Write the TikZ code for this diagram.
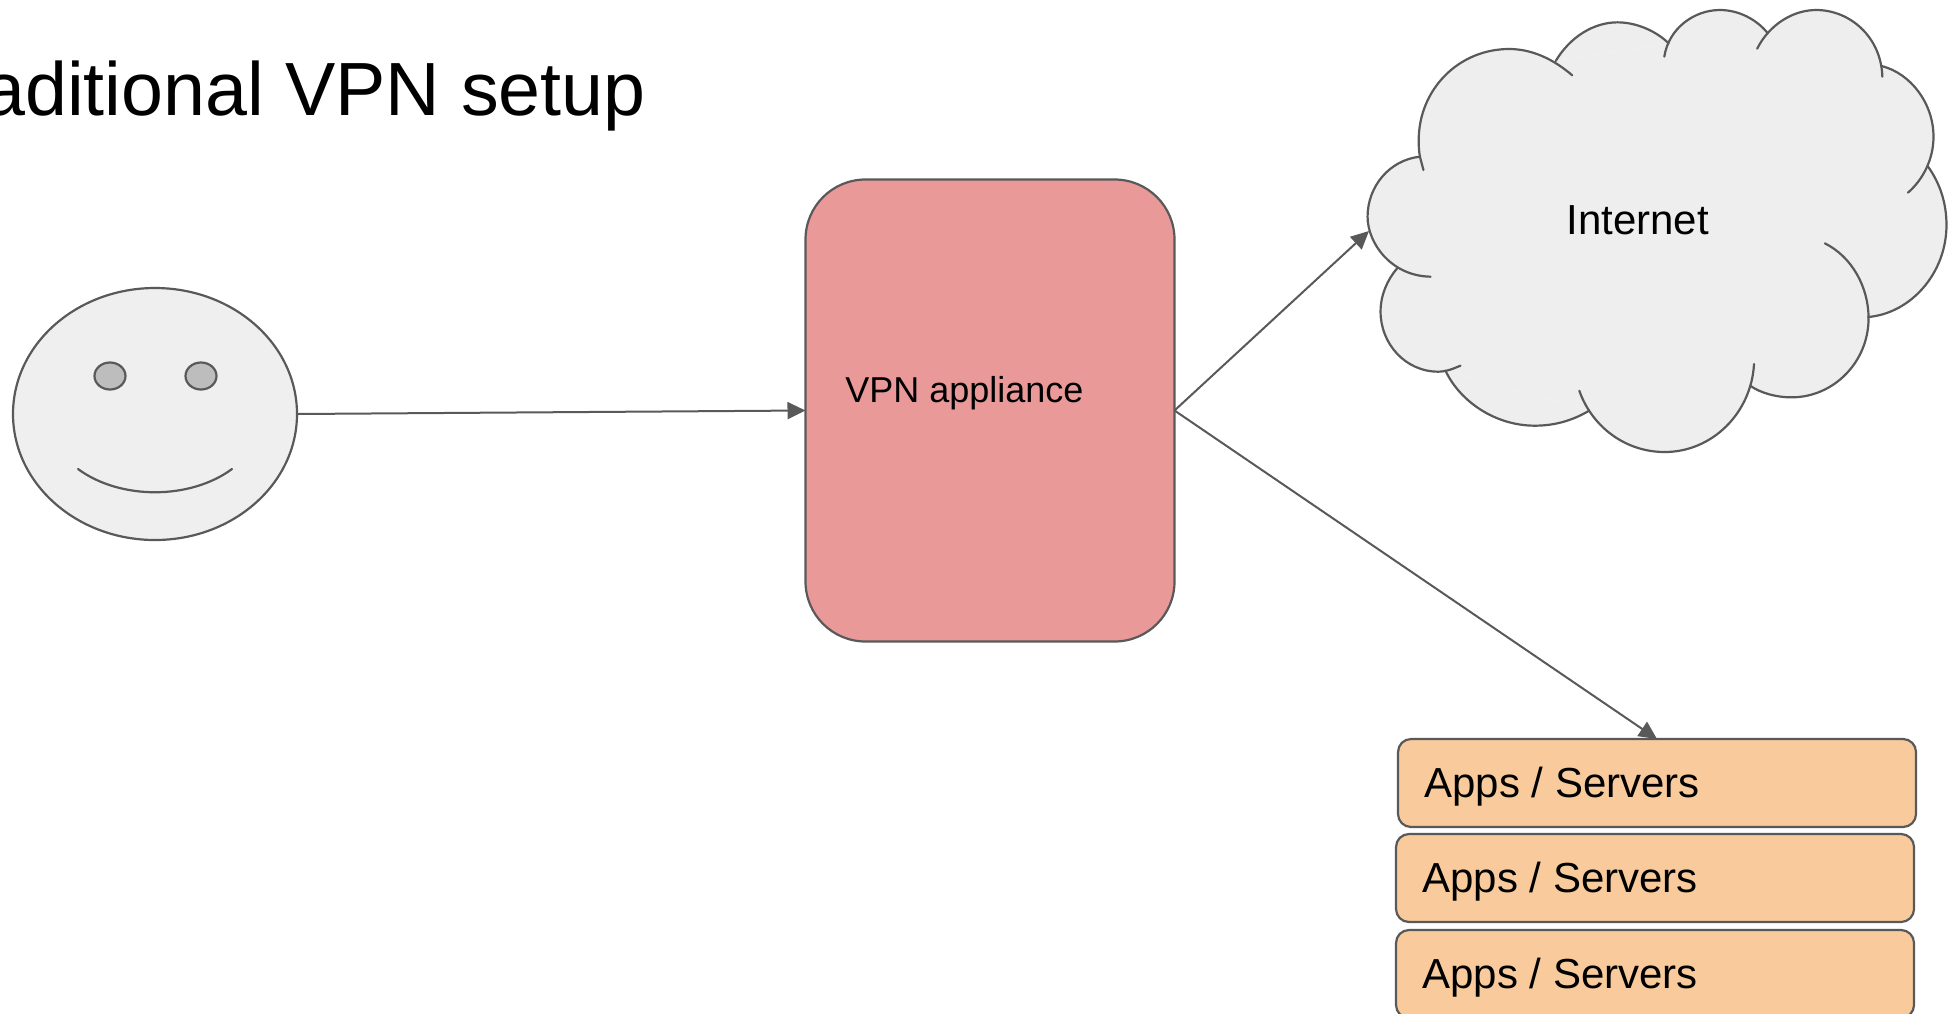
\documentclass[tikz,border=0pt]{standalone}
\usepackage{fontspec}
\setmainfont{Liberation Sans}
\usetikzlibrary{arrows.meta,shapes.geometric}
\definecolor{ln}{HTML}{595959}
\definecolor{cloudfill}{HTML}{EEEEEE}
\definecolor{facefill}{HTML}{EFEFEF}
\definecolor{eyefill}{HTML}{BDBDBD}
\definecolor{vpnfill}{HTML}{EA9999}
\definecolor{appfill}{HTML}{F9CB9C}
\tikzset{
  shp/.style={draw=ln,line width=1.1pt,outer sep=0pt},
  conn/.style={draw=ln,line width=1pt,-{Triangle[length=9pt,width=8.5pt,fill=ln]}},
  appbox/.style={shp,fill=appfill,rounded corners=6.5pt,minimum width=259pt,minimum height=44pt,inner sep=0pt},
  lbl/.style={anchor=base west,inner sep=0pt,text=black},
  lobe/.style={draw=ln,line width=1.1pt,line cap=round},
  eyeshape/.style={shp,fill=eyefill,ellipse,minimum width=15.5pt,minimum height=13.5pt,inner sep=0pt},
}
\begin{document}
\begin{tikzpicture}[x=0.5pt,y=-0.5pt]
\useasboundingbox (0,0) rectangle (1957,1013);
\clip (0,0) rectangle (1957,1013);
% title
\node[lbl,font=\fontsize{37.7}{40}\selectfont] (title) at (-17,115) {aditional VPN setup};
% face
\node[shp,fill=facefill,ellipse,minimum width=142pt,minimum height=126pt,inner sep=0pt] (face) at (155,414) {};
\node[eyeshape] (eyeL) at (110,376) {};
\node[eyeshape] (eyeR) at (201,376) {};
\coordinate (smileL) at (78,469);
\coordinate (smileR) at (232,469);
\draw[lobe] (smileL) .. controls (120,500) and (190,500) .. (smileR);
% vpn
\node[shp,fill=vpnfill,rounded corners=30pt,minimum width=184.5pt,minimum height=231pt,inner sep=0pt] (vpn) at (990,410.5) {};
\node[lbl,font=\fontsize{18}{20}\selectfont] (vpntext) at (845,402) {VPN appliance};
% cloud
\begin{scope}[shift={(1340,0)},x=0.19677pt,y=-0.16667pt]
\fill[cloudfill] (203,470) -- (548,183) -- (835,130) -- (1087,100) -- (1376,198) -- (1493,498) -- (1342,951) -- (1042,1157) -- (633,1232) -- (268,1112) -- (145,805) -- cycle;
\fill[cloudfill] (212,510) -- (203,470) .. controls (125,480) and (70,560) .. (70,650) .. controls (70,730) and (130,828) .. (230,830);
\fill[cloudfill] (203,470) .. controls (200,450) and (200,435) .. (200,420) .. controls (200,270) and (300,147) .. (430,147) .. controls (490,147) and (545,180) .. (590,226);
\fill[cloudfill] (548,183) .. controls (585,110) and (645,67) .. (705,67) .. controls (755,67) and (805,95) .. (835,130);
\fill[cloudfill] (824,170) .. controls (835,85) and (900,30) .. (965,30) .. controls (1015,30) and (1060,60) .. (1087,100);
\fill[cloudfill] (1060,146) .. controls (1090,75) and (1150,30) .. (1210,30) .. controls (1295,30) and (1375,110) .. (1378,230);
\fill[cloudfill] (1376,198) .. controls (1450,220) and (1508,310) .. (1508,410) .. controls (1508,480) and (1480,540) .. (1443,578);
\fill[cloudfill] (1493,498) .. controls (1525,550) and (1541,610) .. (1541,675) .. controls (1541,820) and (1450,940) .. (1342,951);
\fill[cloudfill] (1232,730) .. controls (1300,770) and (1343,860) .. (1343,955) .. controls (1343,1085) and (1255,1192) .. (1147,1192) .. controls (1110,1192) and (1070,1180) .. (1042,1157);
\fill[cloudfill] (1052,1092) .. controls (1045,1240) and (945,1356) .. (825,1356) .. controls (725,1356) and (640,1280) .. (608,1172);
\fill[cloudfill] (633,1232) .. controls (590,1262) and (545,1277) .. (495,1277) .. controls (395,1277) and (305,1205) .. (268,1112);
\fill[cloudfill] (306,1097) .. controls (290,1105) and (270,1115) .. (250,1115) .. controls (165,1115) and (103,1030) .. (103,935) .. controls (103,885) and (120,840) .. (145,805);
\draw[lobe] (212,510) -- (203,470) .. controls (125,480) and (70,560) .. (70,650) .. controls (70,730) and (130,828) .. (230,830);
\draw[lobe] (203,470) .. controls (200,450) and (200,435) .. (200,420) .. controls (200,270) and (300,147) .. (430,147) .. controls (490,147) and (545,180) .. (590,226);
\draw[lobe] (548,183) .. controls (585,110) and (645,67) .. (705,67) .. controls (755,67) and (805,95) .. (835,130);
\draw[lobe] (824,170) .. controls (835,85) and (900,30) .. (965,30) .. controls (1015,30) and (1060,60) .. (1087,100);
\draw[lobe] (1060,146) .. controls (1090,75) and (1150,30) .. (1210,30) .. controls (1295,30) and (1375,110) .. (1378,230);
\draw[lobe] (1376,198) .. controls (1450,220) and (1508,310) .. (1508,410) .. controls (1508,480) and (1480,540) .. (1443,578);
\draw[lobe] (1493,498) .. controls (1525,550) and (1541,610) .. (1541,675) .. controls (1541,820) and (1450,940) .. (1342,951);
\draw[lobe] (1232,730) .. controls (1300,770) and (1343,860) .. (1343,955) .. controls (1343,1085) and (1255,1192) .. (1147,1192) .. controls (1110,1192) and (1070,1180) .. (1042,1157);
\draw[lobe] (1052,1092) .. controls (1045,1240) and (945,1356) .. (825,1356) .. controls (725,1356) and (640,1280) .. (608,1172);
\draw[lobe] (633,1232) .. controls (590,1262) and (545,1277) .. (495,1277) .. controls (395,1277) and (305,1205) .. (268,1112);
\draw[lobe] (306,1097) .. controls (290,1105) and (270,1115) .. (250,1115) .. controls (165,1115) and (103,1030) .. (103,935) .. controls (103,885) and (120,840) .. (145,805);
\end{scope}
\coordinate (cloudin) at (1369,231);
\node[lbl,font=\fontsize{21}{24}\selectfont] (inet) at (1566,234) {Internet};
% apps
\node[appbox] (app1) at (1657,783) {};
\node[appbox] (app2) at (1655,878) {};
\node[appbox] (app3) at (1655,974) {};
\node[lbl,font=\fontsize{21}{24}\selectfont] (t1) at (1424,797) {Apps / Servers};
\node[lbl,font=\fontsize{21}{24}\selectfont] (t2) at (1422,892) {Apps / Servers};
\node[lbl,font=\fontsize{21}{24}\selectfont] (t3) at (1422,988) {Apps / Servers};
% connectors
\draw[conn] (face.east) -- (vpn.west);
\draw[conn] (vpn.east) -- (cloudin);
\draw[conn] (vpn.east) -- (app1.north);
\end{tikzpicture}
\end{document}
